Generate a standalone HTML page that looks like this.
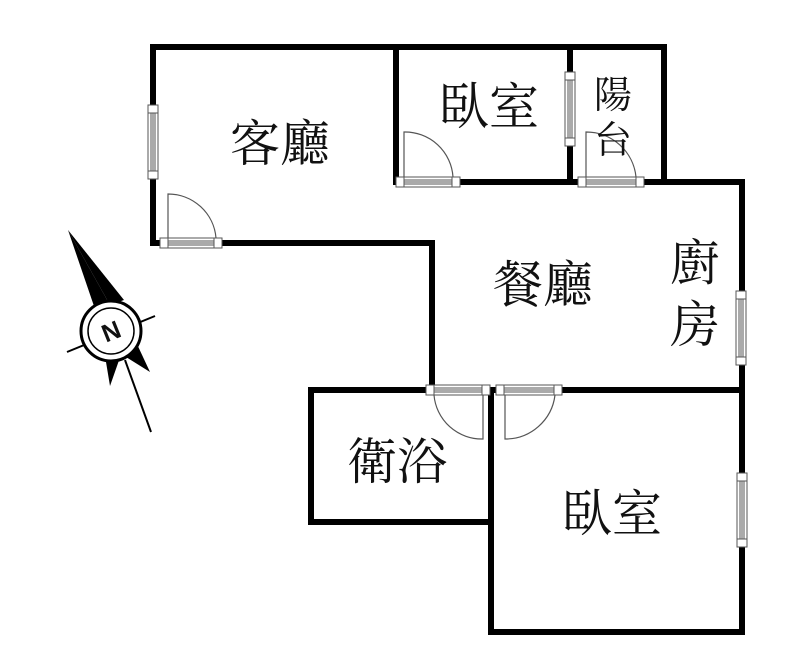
<!DOCTYPE html>
<html><head><meta charset="utf-8"><style>
html,body{margin:0;padding:0;background:#fff;}
svg{display:block}
text{font-family:"Liberation Serif","Noto Serif CJK SC","Noto Sans CJK TC",serif;fill:#111;}
</style></head><body>
<svg width="800" height="657" viewBox="0 0 800 657" xmlns="http://www.w3.org/2000/svg">
<g stroke="#000" stroke-width="6" fill="none" stroke-linecap="square">
<line x1="153" y1="47" x2="664" y2="47"/>
<line x1="153" y1="47" x2="153" y2="243"/>
<line x1="153" y1="243" x2="432" y2="243"/>
<line x1="432" y1="243" x2="432" y2="390"/>
<line x1="396" y1="47" x2="396" y2="182"/>
<line x1="570" y1="47" x2="570" y2="182"/>
<line x1="664" y1="47" x2="664" y2="182"/>
<line x1="396" y1="182" x2="742" y2="182"/>
<line x1="742" y1="182" x2="742" y2="632"/>
<line x1="311" y1="390" x2="742" y2="390"/>
<line x1="311" y1="390" x2="311" y2="522"/>
<line x1="311" y1="522" x2="491" y2="522"/>
<line x1="491" y1="390" x2="491" y2="632"/>
<line x1="491" y1="632" x2="742" y2="632"/>
</g>
<g stroke="#555" stroke-width="1" fill="#fff">
<rect x="160" y="238" width="62" height="10"/>
<line x1="160" y1="241" x2="222" y2="241"/><line x1="160" y1="243" x2="222" y2="243"/><line x1="160" y1="245" x2="222" y2="245"/>
<rect x="160" y="238" width="8" height="10"/><rect x="214" y="238" width="8" height="10"/>
<rect x="396" y="177" width="64" height="10"/>
<line x1="396" y1="180" x2="460" y2="180"/><line x1="396" y1="182" x2="460" y2="182"/><line x1="396" y1="184" x2="460" y2="184"/>
<rect x="396" y="177" width="8" height="10"/><rect x="452" y="177" width="8" height="10"/>
<rect x="578" y="177" width="66" height="10"/>
<line x1="578" y1="180" x2="644" y2="180"/><line x1="578" y1="182" x2="644" y2="182"/><line x1="578" y1="184" x2="644" y2="184"/>
<rect x="578" y="177" width="8" height="10"/><rect x="636" y="177" width="8" height="10"/>
<rect x="426" y="385" width="64" height="10"/>
<line x1="426" y1="388" x2="490" y2="388"/><line x1="426" y1="390" x2="490" y2="390"/><line x1="426" y1="392" x2="490" y2="392"/>
<rect x="426" y="385" width="8" height="10"/><rect x="482" y="385" width="8" height="10"/>
<rect x="496" y="385" width="66" height="10"/>
<line x1="496" y1="388" x2="562" y2="388"/><line x1="496" y1="390" x2="562" y2="390"/><line x1="496" y1="392" x2="562" y2="392"/>
<rect x="496" y="385" width="8" height="10"/><rect x="554" y="385" width="8" height="10"/>
<rect x="148" y="105" width="10" height="74"/>
<line x1="151" y1="105" x2="151" y2="179"/><line x1="153" y1="105" x2="153" y2="179"/><line x1="155" y1="105" x2="155" y2="179"/>
<rect x="148" y="105" width="10" height="8"/><rect x="148" y="171" width="10" height="8"/>
<rect x="565" y="72" width="10" height="74"/>
<line x1="568" y1="72" x2="568" y2="146"/><line x1="570" y1="72" x2="570" y2="146"/><line x1="572" y1="72" x2="572" y2="146"/>
<rect x="565" y="72" width="10" height="8"/><rect x="565" y="138" width="10" height="8"/>
<rect x="736" y="291" width="10" height="74"/>
<line x1="739" y1="291" x2="739" y2="365"/><line x1="741" y1="291" x2="741" y2="365"/><line x1="743" y1="291" x2="743" y2="365"/>
<rect x="736" y="291" width="10" height="8"/><rect x="736" y="357" width="10" height="8"/>
<rect x="737" y="473" width="10" height="74"/>
<line x1="740" y1="473" x2="740" y2="547"/><line x1="742" y1="473" x2="742" y2="547"/><line x1="744" y1="473" x2="744" y2="547"/>
<rect x="737" y="473" width="10" height="8"/><rect x="737" y="539" width="10" height="8"/>
</g>
<g stroke="#555" stroke-width="1.2" fill="none">
<path d="M168 238 V194 A48 48 0 0 1 216 238"/>
<path d="M404 177 V132 A48 48 0 0 1 453 177"/>
<path d="M586 177 V132 A50 50 0 0 1 636 177"/>
<path d="M483 395 V439 A48 48 0 0 1 434 395"/>
<path d="M505 395 V439 A50 50 0 0 0 555 395"/>
</g>
<g font-size="50">
<text x="280" y="161" text-anchor="middle">客廳</text>
<text x="489" y="124" text-anchor="middle">臥室</text>
<text x="543" y="302" text-anchor="middle">餐廳</text>
<text x="397" y="479" text-anchor="middle">衛浴</text>
<text x="612" y="531" text-anchor="middle">臥室</text>
<text x="695" y="280" text-anchor="middle">廚</text>
<text x="695" y="342" text-anchor="middle">房</text>
</g>
<g font-size="38">
<text x="613" y="108" text-anchor="middle">陽</text>
<text x="613" y="153" text-anchor="middle">台</text>
</g>
<g>
<polygon points="68,230 110,305 96,312" fill="#000"/>
<polygon points="68,230 110,305 124,300" fill="#000"/>
<polygon points="104,350 110,386 124,346" fill="#000"/>
<polygon points="136,342 150,372 118,352" fill="#000"/>
<line x1="125" y1="360" x2="151" y2="432" stroke="#000" stroke-width="2"/>
<line x1="67" y1="352" x2="155" y2="316" stroke="#000" stroke-width="2"/>
<circle cx="111" cy="331" r="30" fill="#fff" stroke="#000" stroke-width="3"/>
<circle cx="111" cy="331" r="23" fill="#fff" stroke="#000" stroke-width="1.5"/>
<text x="111" y="340" style="font-family:'Liberation Sans',sans-serif;font-weight:bold;font-size:25px" text-anchor="middle" transform="rotate(-22 111 331)">N</text>
</g>
</svg>
</body></html>
